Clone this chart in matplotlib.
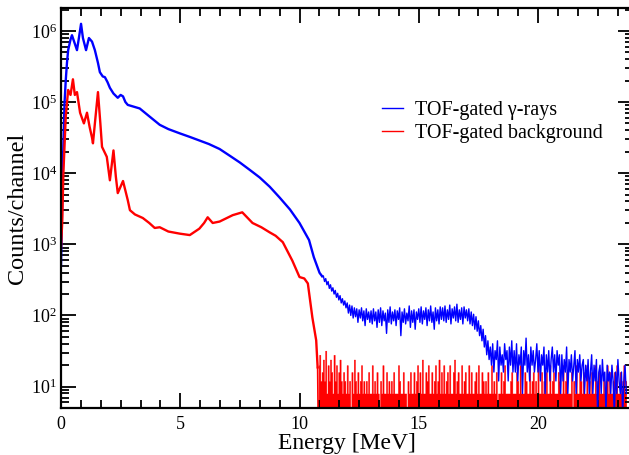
import matplotlib
matplotlib.use("Agg")
import matplotlib.pyplot as plt
from matplotlib.lines import Line2D
from matplotlib.ticker import MultipleLocator, LogLocator, NullFormatter
import numpy as np

plt.rcParams['font.family'] = ['Liberation Serif', 'DejaVu Serif']
plt.rcParams['mathtext.fontset'] = 'custom'
plt.rcParams['mathtext.rm'] = 'Liberation Serif'
plt.rcParams['mathtext.it'] = 'Liberation Serif:italic'

# --- gamma-ray spectrum, smooth part (energy in MeV, log10 of counts)
blue_head_e = [0.0, 0.05, 0.1, 0.15, 0.2, 0.25, 0.3, 0.4, 0.46, 0.55, 0.67, 0.75, 0.84,
               0.92, 1.05, 1.17, 1.3, 1.42, 1.55, 1.63, 1.75, 1.84, 1.95, 2.05, 2.2,
               2.38, 2.5, 2.6, 2.7, 2.8, 3.0, 3.3, 3.7, 4.14, 4.5, 4.98, 5.4, 5.8, 6.2,
               6.65, 7.1, 7.5, 7.9, 8.33, 8.75, 9.16, 9.6, 10.0, 10.2, 10.4, 10.6,
               10.84, 10.95]
blue_head_log = [2.7, 3.6, 4.4, 5.0, 5.31, 5.55, 5.73, 5.88, 5.94, 5.85, 5.73, 5.9, 6.1,
                 5.9, 5.73, 5.9, 5.85, 5.73, 5.55, 5.42, 5.36, 5.35, 5.28, 5.2, 5.12,
                 5.06, 5.1, 5.08, 5.0, 4.96, 4.94, 4.91, 4.8, 4.68, 4.62, 4.56, 4.51, 4.46, 4.41,
                 4.34, 4.24, 4.15, 4.05, 3.94, 3.81, 3.66, 3.49, 3.30, 3.18, 3.06, 2.82,
                 2.6, 2.55]

# --- gamma-ray spectrum, noisy tail (counts per channel, 11.0 .. 23.7 MeV)
blue_tail = [
    360, 300, 330, 270, 300, 240, 270, 220, 245, 200, 225, 180, 205, 165, 190, 150, 172, 140, 160, 128,
    150, 108, 140, 100, 136, 92, 128, 96, 124, 80, 120, 92, 128, 84, 116, 72, 124, 88, 112, 80,
    116, 76, 124, 84, 112, 68, 120, 80, 128, 72, 116, 84, 108, 56, 120, 80, 132, 76, 112, 84,
    120, 72, 116, 88, 128, 52, 112, 80, 124, 76, 108, 84, 136, 68, 116, 80, 120, 64, 112, 88,
    124, 80, 132, 76, 116, 88, 128, 72, 120, 84, 136, 80, 112, 64, 128, 84, 120, 76, 132, 88,
    128, 84, 136, 80, 120, 88, 140, 76, 124, 92, 132, 84, 144, 80, 120, 88, 128, 76, 132, 92,
    120, 84, 124, 76, 112, 72, 104, 64, 96, 60, 84, 52, 72, 44, 64, 36, 52, 28, 44, 24,
    36, 20, 40, 16, 32, 24, 44, 12, 36, 20, 28, 16, 40, 24, 32, 12, 36, 20, 44, 16,
    32, 16, 40, 12, 28, 20, 36, 8, 32, 20, 48, 16, 28, 12, 36, 20, 32, 16, 24, 40,
    16, 32, 12, 28, 20, 36, 8, 28, 16, 32, 12, 24, 36, 16, 28, 12, 32, 20, 28, 8,
    28, 12, 24, 16, 36, 8, 24, 16, 28, 12, 20, 32, 8, 24, 16, 28, 12, 20, 24, 8,
    20, 12, 24, 8, 16, 28, 8, 20, 12, 24, 4, 16, 20, 8, 24, 12, 16, 4, 20, 12,
    16, 8, 20, 12, 4, 16, 8, 24, 12, 8, 16, 4, 12, 20, 8]

# --- background spectrum, smooth part
red_head_e = [0.0, 0.05, 0.1, 0.2, 0.3, 0.4, 0.5, 0.58, 0.67, 0.8, 0.96, 1.09, 1.2, 1.3,
              1.34, 1.45, 1.55, 1.65, 1.72, 1.92, 2.05, 2.2, 2.3, 2.38, 2.6, 2.8, 2.89,
              3.1, 3.43, 3.7, 3.93, 4.14, 4.5, 4.98, 5.4, 5.8, 6.0, 6.15, 6.36, 6.65,
              7.2, 7.6, 8.03, 8.4, 8.74, 9.0, 9.3, 9.5, 9.7, 10.0, 10.2, 10.35, 10.54,
              10.7, 10.76]
red_head_log = [2.95, 3.3, 4.0, 4.8, 5.17, 5.1, 5.32, 5.1, 5.14, 4.85, 4.7, 4.85, 4.65, 4.5,
                4.42, 4.8, 5.14, 4.7, 4.37, 4.23, 3.9, 4.32, 3.95, 3.72, 3.89, 3.62, 3.48,
                3.42, 3.37, 3.3, 3.23, 3.24, 3.18, 3.15, 3.13, 3.22, 3.3, 3.38, 3.3, 3.32,
                3.41, 3.45, 3.3, 3.24, 3.17, 3.12, 3.03, 2.9, 2.77, 2.54, 2.52, 2.45, 1.97,
                1.65, 1.27]

# --- background spectrum, noisy tail (counts per channel, 10.8 .. 23.7 MeV)
red_tail = [
    20, 28, 12, 16, 24, 12, 32, 8, 20, 12, 24, 16, 8, 28, 12, 20, 8, 16, 24, 12,
    8, 16, 12, 8, 20, 8, 12, 4, 16, 8, 24, 12, 8, 16, 8, 12, 20, 8, 12, 8,
    12, 8, 16, 8, 8, 20, 8, 12, 8, 16, 8, 4, 12, 8, 20, 8, 8, 16, 8, 12,
    8, 12, 8, 16, 8, 8, 8, 20, 12, 8, 8, 16, 8, 8, 4, 12, 8, 16, 8, 8,
    16, 8, 12, 20, 8, 16, 8, 24, 8, 8, 16, 12, 20, 8, 8, 16, 8, 12, 20, 8,
    12, 24, 8, 16, 8, 20, 8, 12, 16, 8, 20, 8, 8, 16, 24, 8, 12, 16, 8, 8,
    20, 8, 12, 16, 8, 8, 20, 8, 16, 8, 8, 12, 16, 8, 20, 8, 8, 16, 12, 8,
    12, 8, 16, 8, 8, 20, 8, 12, 8, 16, 4, 8, 8, 16, 8, 12, 20, 8, 8, 8,
    8, 12, 16, 8, 8, 8, 16, 12, 8, 20, 8, 8, 8, 16, 12, 8, 8, 20, 8, 12,
    16, 8, 12, 8, 20, 8, 8, 16, 8, 12, 8, 16, 8, 8, 20, 8, 12, 16, 8, 8,
    8, 16, 12, 8, 8, 20, 8, 12, 16, 8, 8, 8, 16, 4, 12, 8, 20, 8, 8, 16,
    12, 8, 16, 8, 8, 20, 8, 12, 8, 16, 8, 8, 20, 8, 12, 16, 8, 8, 8, 16,
    8, 12, 20, 8, 16, 8, 8, 12, 16, 8, 20, 8, 8, 16, 8, 12, 20, 8, 12]

blue_tail_e = np.linspace(11.0, 23.7, len(blue_tail))
red_tail_e = np.linspace(10.8, 23.7, len(red_tail))

BLUE = '#0000ff'
RED = '#ff0000'

fig = plt.figure(figsize=(6.29, 4.55), dpi=100)
ax = fig.add_axes([61 / 629, 1 - 408 / 455, 572.4 / 629, 400 / 455])

ax.plot(blue_head_e, 10 ** np.array(blue_head_log), color=BLUE, lw=1.7)
ax.plot(np.concatenate([[10.95], blue_tail_e]),
        np.concatenate([[10 ** 2.55], np.maximum(blue_tail, 1)]),
        color=BLUE, lw=1.0)
ax.plot(red_head_e, 10 ** np.array(red_head_log), color=RED, lw=1.7)
ax.fill_between(red_tail_e, np.maximum(red_tail, 1), 1, step='mid',
                facecolor=RED, edgecolor=RED, lw=0.3)
ax.plot([red_head_e[-1], red_tail_e[0]], [10 ** red_head_log[-1], 1],
        color=RED, lw=1.2)

ax.set_yscale('log')
ax.set_xlim(0, 24)
ax.set_ylim(5, 2.1e6)

ax.xaxis.set_major_locator(MultipleLocator(5))
ax.xaxis.set_minor_locator(MultipleLocator(5 / 6))
ax.yaxis.set_major_locator(LogLocator(base=10, numticks=10))
ax.yaxis.set_minor_locator(LogLocator(base=10, subs=np.arange(2, 10), numticks=20))
ax.yaxis.set_minor_formatter(NullFormatter())

ax.tick_params(which='both', direction='in', top=True, right=True, width=1.3,
               labelsize=13)
ax.tick_params(which='major', length=11)
ax.tick_params(which='minor', length=5.5)
ax.tick_params(axis='x', pad=6)
ax.tick_params(axis='y', pad=3)
for s in ax.spines.values():
    s.set_linewidth(1.6)

ax.set_xlabel('Energy [MeV]', fontsize=17, labelpad=0)
ax.set_ylabel('Counts/channel', fontsize=17.5, labelpad=2)

handles = [Line2D([], [], color=BLUE, lw=1.0), Line2D([], [], color=RED, lw=1.0)]
ax.legend(handles, ['TOF-gated \u03b3-rays', 'TOF-gated background'],
          loc='upper left', bbox_to_anchor=(0.561, 0.7675), frameon=False,
          fontsize=14.5, handlelength=1.05, handletextpad=0.6,
          labelspacing=0.2, borderpad=0, borderaxespad=0)

fig.savefig('out.png', dpi=100)
